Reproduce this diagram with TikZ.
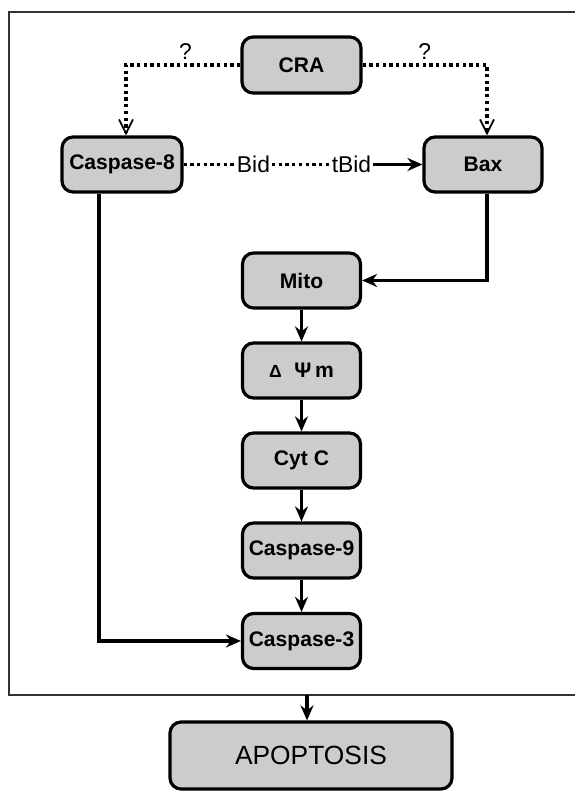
\documentclass[tikz,border=0pt]{standalone}
\usepackage{fontspec}
\setmainfont{Liberation Sans}
\usetikzlibrary{arrows.meta}
\definecolor{boxgray}{HTML}{CCCCCC}
\tikzset{
  stepbox/.style={draw, line width=1.8pt, rounded corners=0.22cm, fill=boxgray,
    minimum width=2.36cm, minimum height=1.1cm, inner sep=0pt,
    font=\fontsize{12}{14}\selectfont\bfseries},
  link/.style={line width=2pt, -{Stealth[length=3mm,width=2.6mm]}},
  dots/.style={line width=2.2pt, dash pattern=on 1.9pt off 1.9pt},
  maybe/.style={dots, -{Straight Barb[length=2.8mm,width=2.8mm,line width=1pt]}},
  tag/.style={inner sep=1pt, font=\fontsize{13}{15}\selectfont},
}
\begin{document}
\begin{tikzpicture}
    \useasboundingbox (0,0) rectangle (11.5,15.82);
    % frame (open on the right)
    \path[draw, line width=0.7pt, black!80] (11.6,15.58) -- (0.18,15.58) -- (0.18,1.92) -- (11.6,1.92);

    \node[stepbox, minimum width=2.38cm, minimum height=1.12cm] (cra) at (6.03,14.52) {CRA};
    \node[stepbox, minimum width=2.4cm] (c8) at (2.44,12.53) {Caspase-8};
    \node[stepbox] (bax) at (9.66,12.53) {Bax};
    \node[tag] (bid) at (5.07,12.53) {Bid};
    \node[tag] (tbid) at (7.03,12.53) {tBid};

    \node[stepbox] (mito) at (6.03,10.21) {Mito};
    \node[stepbox] (dpsi) at (6.03,8.41) {{\fontsize{10}{11}\selectfont Δ}\hspace{0.6em}Ψ\,m};
    \node[stepbox] (cytc) at (6.03,6.61) {Cyt C};
    \node[stepbox] (c9) at (6.03,4.81) {Caspase-9};
    \node[stepbox] (c3) at (6.03,3.0) {Caspase-3};
    \node[stepbox, minimum width=5.64cm, minimum height=1.34cm,
          font=\fontsize{15}{17}\selectfont] (apop) at (6.22,0.71) {APOPTOSIS};
    \coordinate (rim) at (6.14,1.92); % frame bottom

    % CRA to both sides
    \draw[maybe] (cra.west) -| node[tag, pos=0.24, above=1pt] {?} ([xshift=0.08cm]c8.north);
    \draw[maybe] (cra.east) -| node[tag, pos=0.25, above=1pt] {?} ([xshift=0.08cm]bax.north);

    % Bid cleavage
    \draw[dots] (c8.east) -- (bid.west);
    \draw[dots] (bid.east) -- (tbid.west);
    \draw[link] (tbid.east) -- (bax.west);

    % side routes
    \draw[link] ([xshift=-0.46cm]c8.south) |- (c3.west);
    \draw[link] ([xshift=0.08cm]bax.south) |- (mito.east);

    % mitochondrial column
    \foreach \a/\b in {mito/dpsi, dpsi/cytc, cytc/c9, c9/c3}
        \draw[link] (\a) -- (\b);
    \draw[link] (rim) -- (rim |- apop.north);
\end{tikzpicture}
\end{document}
